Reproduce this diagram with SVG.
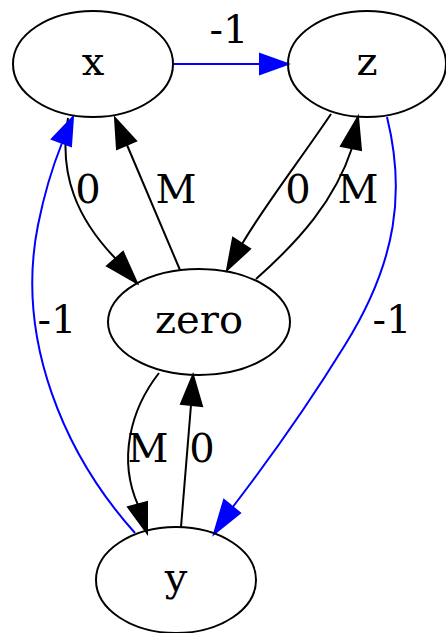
<svg xmlns="http://www.w3.org/2000/svg" width="446" height="633" viewBox="0 0 446 633">
<style>
.n ellipse{fill:none;stroke:#000;stroke-width:2}
text{font-family:"DejaVu Serif","Liberation Serif",serif;font-size:40px;fill:#000;text-anchor:middle}
.k{fill:none;stroke:#000;stroke-width:2}
.b{fill:none;stroke:#0000ff;stroke-width:2}
.ka{fill:#000;stroke:#000;stroke-width:2}
.ba{fill:#0000ff;stroke:#0000ff;stroke-width:2}
</style>
<rect width="446" height="633" fill="#fff"/>
<g id="edges">
  <!-- x -> z -->
  <path class="b" d="M173,64 L260,64"/>
  <polygon class="ba" points="260,54 288,64 260,74"/>
  <text x="229" y="43">-1</text>
  <!-- x -> zero (0) -->
  <path class="k" d="M68,118 C58,175 78,220 116,259"/>
  <polygon class="ba" style="fill:#000;stroke:#000" points="107,266 137,283 123,252"/>
  <text x="88" y="203">0</text>
  <!-- zero -> x (M) -->
  <path class="k" d="M180,270 L127,145"/>
  <polygon class="ka" points="117,149 115,118 136,141"/>
  <text x="176" y="203">M</text>
  <!-- z -> zero (0) -->
  <path class="k" d="M331,114 C300,160 265,205 242,244"/>
  <polygon class="ka" points="233,238 227,270 250,249"/>
  <text x="298" y="203">0</text>
  <!-- zero -> z (M) -->
  <path class="k" d="M256,279 C300,240 335,200 352,148"/>
  <polygon class="ka" points="341,146 358,117 361,150"/>
  <text x="358" y="203">M</text>
  <!-- z -> y (-1) -->
  <path class="b" d="M387,117 C405,190 398,260 345,345 C305,410 265,465 232,508"/>
  <polygon class="ba" points="224,500 214,534 240,513"/>
  <text x="392" y="333">-1</text>
  <!-- y -> x (-1) -->
  <path class="b" d="M135,533 C65,455 15,340 38,225 C44,195 52,168 62,143"/>
  <polygon class="ba" points="52,139 73,117 71,146"/>
  <text x="57" y="333">-1</text>
  <!-- zero -> y (M) -->
  <path class="k" d="M159,373 C130,410 118,460 138,505"/>
  <polygon class="ka" points="128,507 147,533 147,502"/>
  <text x="148" y="462">M</text>
  <!-- y -> zero (0) -->
  <path class="k" d="M181,527 L191,405"/>
  <polygon class="ka" points="181,404 193,375 202,406"/>
  <text x="202" y="462">0</text>
</g>
<g id="x" class="n"><ellipse cx="93" cy="64" rx="80" ry="53"/><text x="93" y="75">x</text></g>
<g id="z" class="n"><ellipse cx="367" cy="64" rx="79" ry="53"/><text x="367" y="75">z</text></g>
<g id="zero" class="n"><ellipse cx="199" cy="322" rx="91" ry="53"/><text x="199" y="333">zero</text></g>
<g id="y" class="n"><ellipse cx="176" cy="580" rx="80" ry="53"/><text x="176" y="591">y</text></g>
</svg>
